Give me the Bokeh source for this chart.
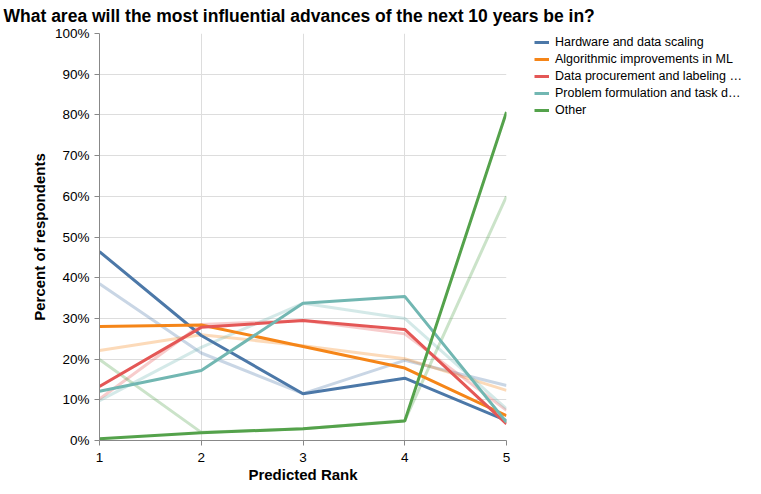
from bokeh.plotting import figure
from bokeh.models import Range1d, FixedTicker, PrintfTickFormatter, Legend, LegendItem
from bokeh.embed import file_html
from bokeh.resources import INLINE

ranks = [1, 2, 3, 4, 5]
series_names = ["Hardware and data scaling", "Algorithmic improvements in ML",
                "Data procurement and labeling \u2026", "Problem formulation and task d\u2026", "Other"]
colors = ["#4c78a8", "#f58518", "#e45756", "#72b7b2", "#54a24b"]

hardware = [46.4, 25.8, 11.5, 15.3, 4.9]
algorithmic = [28.0, 28.4, 23.1, 17.8, 6.1]
data_proc = [13.3, 27.8, 29.5, 27.3, 4.1]
problem = [12.1, 17.2, 33.7, 35.4, 4.5]
other = [0.4, 1.9, 2.9, 4.8, 80.7]

hardware_b = [38.5, 21.5, 11.5, 19.7, 13.5]
algorithmic_b = [22.1, 26.0, 23.3, 20.1, 12.3]
data_proc_b = [10.2, 28.5, 29.5, 26.2, 7.4]
problem_b = [9.8, 22.9, 33.7, 30.0, 7.8]
other_b = [19.9, 2.0, 2.9, 4.9, 60.0]

y_ticks = [0, 10, 20, 30, 40, 50, 60, 70, 80, 90, 100]

main = [hardware, algorithmic, data_proc, problem, other]
faded = [hardware_b, algorithmic_b, data_proc_b, problem_b, other_b]

FONT = "Liberation Sans"

p = figure(frame_width=407, frame_height=407, output_backend="svg", toolbar_location=None,
           x_range=Range1d(1, 5), y_range=Range1d(0, 100),
           min_border_left=99, min_border_right=247, min_border_top=33, min_border_bottom=46,
           title="What area will the most influential advances of the next 10 years be in?")
p.outline_line_color = None
p.background_fill_color = "white"

p.title.text_font = FONT
p.title.text_font_size = "17.5px"
p.title.text_font_style = "bold"
p.title.text_color = "#000000"
p.title.align = "left"
p.title.vertical_align = "top"
p.title.offset = -96
p.title.standoff = 11

for ys, c in zip(faded, colors):
    p.line(ranks, ys, line_color=c, line_width=3, line_alpha=0.3)

renderers = []
for ys, c in zip(main, colors):
    r = p.line(ranks, ys, line_color=c, line_width=3)
    renderers.append(r)

p.xaxis.ticker = FixedTicker(ticks=ranks)
p.yaxis.ticker = FixedTicker(ticks=y_ticks)
p.yaxis.formatter = PrintfTickFormatter(format="%d%%")
p.xaxis.axis_label = "Predicted Rank"
p.yaxis.axis_label = "Percent of respondents"

for ax in (p.xaxis, p.yaxis):
    ax.axis_line_color = "#888888"
    ax.major_tick_line_color = "#888888"
    ax.major_tick_out = 5
    ax.major_tick_in = 0
    ax.minor_tick_line_color = None
    ax.major_label_text_font = FONT
    ax.major_label_text_font_size = "13.5px"
    ax.major_label_text_color = "#000000"
    ax.axis_label_text_font = FONT
    ax.axis_label_text_font_size = "15px"
    ax.axis_label_text_font_style = "bold"
    ax.axis_label_text_color = "#000000"
p.xaxis.major_label_standoff = 7
p.xaxis.axis_label_standoff = 1
p.yaxis.major_label_standoff = 5
p.yaxis.axis_label_standoff = 4

p.xgrid.grid_line_color = "#dddddd"
p.ygrid.grid_line_color = "#dddddd"

items = [LegendItem(label=n, renderers=[r]) for n, r in zip(series_names, renderers)]
legend = Legend(items=items, location=(28, 323), orientation="vertical")
legend.margin = 0
legend.padding = 0
legend.border_line_color = None
legend.background_fill_alpha = 0
legend.label_text_font = FONT
legend.label_text_font_size = "12.5px"
legend.label_text_color = "#000000"
legend.glyph_width = 15
legend.glyph_height = 12
legend.label_height = 12
legend.label_standoff = 6
legend.spacing = 3
p.add_layout(legend, "right")

open("out.html", "w").write(file_html(p, INLINE))
